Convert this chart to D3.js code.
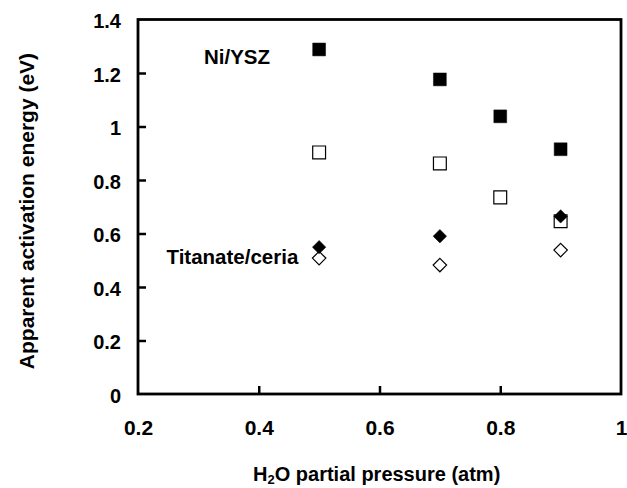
<!DOCTYPE html>
<html><head><meta charset="utf-8">
<script src="https://cdn.jsdelivr.net/npm/d3@7"></script>
<style>body{margin:0;background:#fff}svg{display:block}text{font-family:"Liberation Sans",Arial,sans-serif;font-weight:bold;fill:#000}</style>
</head><body><svg id="c" width="627" height="488"></svg>
<script>
const pressures = [0.5, 0.7, 0.8, 0.9];
const niFilled = [1.288, 1.176, 1.038, 0.915];
const niOpen = [0.903, 0.862, 0.735, 0.646];
const tiPressures = [0.5, 0.7, 0.9];
const tiFilled = [0.549, 0.59, 0.664];
const tiOpen = [0.508, 0.482, 0.538];
const xTicks = [0.2, 0.4, 0.6, 0.8, 1];
const yTicks = [0, 0.2, 0.4, 0.6, 0.8, 1, 1.2, 1.4];

const svg = d3.select("#c");
const L = 138, R = 621, T = 19.5, B = 394;
const x = d3.scaleLinear().domain([0.2, 1]).range([L, R]);
const y = d3.scaleLinear().domain([0, 1.4]).range([B, T]);

// frame
svg.append("rect").attr("x", L).attr("y", T).attr("width", R - L).attr("height", B - T)
  .attr("fill", "none").attr("stroke", "#000").attr("stroke-width", 2.8);

// y axis
const yAx = svg.append("g").attr("transform", `translate(${L},0)`)
  .call(d3.axisLeft(y).tickValues(yTicks).tickFormat(d => String(+d.toFixed(1))).tickSizeInner(-8).tickSizeOuter(0).tickPadding(17));
yAx.select(".domain").remove();
yAx.selectAll("line").attr("stroke-width", 2.5).filter(d => d === 0 || d === 1.4).remove();
yAx.selectAll("text").attr("font-size", 20).attr("font-family", null).attr("dy", "0.4em");

// x axis
const xAx = svg.append("g").attr("transform", `translate(0,${B})`)
  .call(d3.axisBottom(x).tickValues(xTicks).tickFormat(d => String(+d.toFixed(1))).tickSizeInner(-8).tickSizeOuter(0).tickPadding(26));
xAx.select(".domain").remove();
xAx.selectAll("line").attr("stroke-width", 2.5).filter(d => d === 0.2 || d === 1).remove();
xAx.selectAll("text").attr("font-size", 21).attr("font-family", null);

// titles
svg.append("text").attr("x", 253).attr("y", 481).attr("font-size", 20)
  .html('H<tspan font-size="13" dy="3">2</tspan><tspan dy="-3">O partial pressure (atm)</tspan>');
svg.append("text").attr("transform", "translate(34,211) rotate(-90)").attr("text-anchor", "middle")
  .attr("font-size", 21).text("Apparent activation energy (eV)");

// annotations
svg.append("text").attr("x", 204).attr("y", 63.5).attr("font-size", 20.5).text("Ni/YSZ");
svg.append("text").attr("x", 166.5).attr("y", 263.5).attr("font-size", 20.5).text("Titanate/ceria");

const sq = d3.symbol().type(d3.symbolSquare).size(165);
const dia = d3.symbol().type(d3.symbolDiamond2).size(115);

function pts(xs, ys, sym, filled) {
  svg.append("g").selectAll("path").data(xs.map((v, i) => [v, ys[i]])).join("path")
    .attr("d", sym).attr("transform", d => `translate(${x(d[0])},${y(d[1])})`)
    .attr("fill", filled ? "#000" : "#fff").attr("stroke", "#000").attr("stroke-width", filled ? 0.5 : 1.2);
}
pts(pressures, niOpen, sq, false);
pts(pressures, niFilled, sq, true);
pts(tiPressures, tiOpen, dia, false);
pts(tiPressures, tiFilled, dia, true);
</script></body></html>
